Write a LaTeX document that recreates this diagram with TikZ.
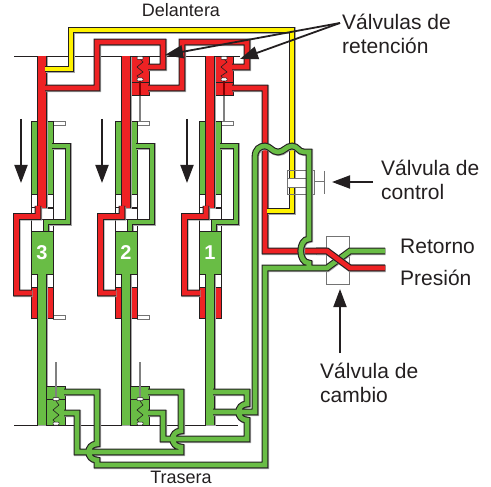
\documentclass[tikz,border=0pt]{standalone}
\usepackage{fontspec}
\setmainfont{Liberation Sans}
\usetikzlibrary{arrows.meta}
\definecolor{pred}{HTML}{EE2224}
\definecolor{pgreen}{HTML}{69BD45}
\definecolor{pyellow}{HTML}{FFF200}
\definecolor{ink}{HTML}{231F20}
\newcommand{\pipes}[2]{%
  \draw[line width=7pt,black!35,shift={(0.6,0.6)}] #2;
  \draw[line width=6.8pt,ink] #2;
  \draw[line width=4.6pt,#1] #2;}
\newcommand{\stems}[2]{%
  \draw[line width=9.8pt,black!35,shift={(0.6,0.6)}] #2;
  \draw[line width=9.6pt,ink] #2;
  \draw[line width=7.8pt,#1] #2;}
\tikzset{
  lbl/.style={inner sep=0pt,text=ink,font=\fontsize{21}{24.5}\selectfont,align=left},
  smalllbl/.style={inner sep=0pt,text=ink,font=\fontsize{18}{21}\selectfont},
  cellbox/.style={draw=ink,line width=0.8pt,fill=white},
  tabbox/.style={draw=black!55,line width=0.9pt,fill=white},
  valvebox/.style={draw=black!55,line width=1pt},
  grn/.style={draw=ink,line width=0.9pt,fill=pgreen},
  redb/.style={draw=ink,line width=0.9pt,fill=pred},
  thinline/.style={draw=ink,line width=0.8pt},
  rodline/.style={draw=black!50,line width=1.3pt},
  bigarrow/.style={draw=ink,line width=1.8pt,-{Triangle[length=18pt,width=13pt]}},
  callout/.style={draw=ink,line width=1.8pt,-{Triangle[length=18pt,width=13pt]}},
  poppet/.style={draw=ink,line width=0.5pt,fill=white,rounded corners=0.8pt,minimum width=6pt,minimum height=3pt,inner sep=0pt},
  spring/.style={draw=ink,line width=0.6pt},
  num/.style={text=white,font=\fontsize{20}{22}\selectfont\bfseries,inner sep=0pt}
}
\begin{document}
\begin{tikzpicture}[x=1pt,y=-1pt]
\useasboundingbox (0,0) rectangle (491,487);
% reference lines
\draw[thinline] (14,56) -- (240,56);
\draw[thinline] (14,425) -- (238,425);
% cylinders
\foreach \c/\t/\n in {0/1/3,84/1/2,168/0/1}{
\begin{scope}[shift={(\c,0)}]
  \draw[tabbox] (53,121) rectangle (65,125);
  \ifnum\t=1 \draw[tabbox] (53,315) rectangle (65,319);\fi
  \draw[grn] (31,121) rectangle (53,194);
  \draw[cellbox] (31,194) rectangle (38,207);
  \draw[cellbox] (46,194) rectangle (53,207);
  \draw[cellbox] (31,207) rectangle (35,214);
  \draw[cellbox] (41,208) rectangle (53,219);
  \draw[cellbox] (31,219) rectangle (43,231);
  \draw[cellbox] (48,224) rectangle (53,231);
  \draw[cellbox] (31,274) rectangle (38,287);
  \draw[cellbox] (46,274) rectangle (53,287);
  \draw[redb] (31,287) rectangle (53,318);
  \pipes{pgreen}{(52,146) -- (68,146) -- (68,222) -- (46,222) -- (46,232)}
  \draw[grn] (31,231) rectangle (53,274);
  \node[num] (n\n) at (42,252.5) {\n};
\end{scope}}
% top check valves
\foreach \c in {0,84}{
\begin{scope}[shift={(\c,0)}]
  \draw[rodline] (140,95) -- (140,121);
  \draw[redb] (130,56) rectangle (149,95);
  \draw[thinline] (130,82) -- (149,82);
  \draw[draw=red!50!black,line width=1.3pt] (140,81) -- (140,95);
  \draw[spring] (140,59) -- (143,62) -- (137,67) -- (143,72) -- (137,76) -- (140,79);
  \node[poppet] (pt\c) at (140,58) {};
  \node[poppet] (pb\c) at (140,79.5) {};
\end{scope}}
% red stems and pipes
\stems{pred}{(42,56) -- (42,208) (126,56) -- (126,208) (210,56) -- (210,208)}
\pipes{pred}{
  (45,88) -- (97,88) -- (97,42) -- (163,42) -- (163,67) -- (148,67)
  (148,88) -- (182,88) -- (182,42) -- (247,42) -- (247,67) -- (232,67)
  (232,88) -- (265,88) -- (265,251) -- (327,251) -- (350,268) -- (385,268)
  (38,206) -- (38,216.5) -- (16.5,216.5) -- (16.5,293) -- (32,293)
  (122,206) -- (122,216.5) -- (100.5,216.5) -- (100.5,293) -- (116,293)
  (206,206) -- (206,216.5) -- (184.5,216.5) -- (184.5,293) -- (200,293)
}
% yellow
\pipes{pyellow}{(45,69) -- (71,69) -- (71,30) -- (292,30) -- (292,211) -- (267,211)}
% rods
\stems{pgreen}{(42,274) -- (42,425) (126,274) -- (126,425) (210,274) -- (210,425)}
% bottom valves
\foreach \c in {0,84}{
\begin{scope}[shift={(\c,0)}]
  \draw[grn] (46,386) rectangle (65,425);
  \draw[rodline] (56,362) -- (56,398);
  \draw[thinline] (46,399) -- (65,399);
  \draw[spring] (56,401) -- (59,405) -- (53,410) -- (59,415) -- (53,420) -- (56,423);
\end{scope}}
% control valve
\draw[valvebox,fill=white] (287,179) rectangle (307,188);
\draw[valvebox] (287,171) rectangle (314,195);
\draw[valvebox] (314,182) -- (324,182);
\draw[valvebox] (324,171) -- (324,194);
% changeover valve body
\draw[valvebox,fill=white] (326,237) rectangle (349,284);
% green pipes
\pipes{pgreen}{
  (64,392) -- (97,392) -- (97,444) .. controls (86,444) and (86,460) .. (97,460) -- (97,465) -- (265,465) -- (265,268) -- (327,268) -- (350,251) -- (385,251)
  (148,392) -- (181,392) -- (181,431) .. controls (170,431) and (170,447) .. (181,447) -- (181,452) -- (77,452) -- (77,413) -- (64,413)
  (213,392) -- (247,392) -- (247,404) .. controls (236,404) and (236,420) .. (247,420) -- (247,439) -- (163,439) -- (163,413) -- (148,413)
  (213,412) -- (255,412) -- (255,157) .. controls (255,149) and (260,146) .. (265,146) .. controls (270,146) and (272,152) .. (278,152) .. controls (284,152) and (286,146) .. (292,146) .. controls (298,146) and (298,152) .. (304,152) -- (309,152) -- (309,239) .. controls (298,239) and (298,263) .. (309,263) -- (309,268)
}
% red on top at the crossing
\pipes{pred}{(316,251) -- (327,251) -- (350,268) -- (385,268)}
\foreach \c in {0,84}{
\begin{scope}[shift={(\c,0)}]
  \node[poppet] (qt\c) at (56,399) {};
  \node[poppet] (qb\c) at (56,423.5) {};
\end{scope}}
\coordinate (cvtip) at (332,182);
\coordinate (cvend) at (373,182);
\draw[bigarrow] (cvend) -- (cvtip);
\coordinate (cotip) at (340,289);
\coordinate (coend) at (340,353);
\draw[bigarrow] (coend) -- (cotip);
% big arrows
\foreach \x/\i in {21/a,102/b,187/c}{
  \coordinate (s\i) at (\x,119);
  \coordinate (e\i) at (\x,183);
  \draw[bigarrow] (s\i) -- (e\i);
}
% labels
\node[smalllbl] (del) at (181,10) {Delantera};
\node[smalllbl] (tra) at (181,477) {Trasera};
\node[lbl,anchor=west] (vr) at (342,34) {Válvulas de\\retención};
\node[lbl,anchor=west] (vc) at (381,180) {Válvula de\\control};
\node[lbl,anchor=west] (ret) at (400,246) {Retorno};
\node[lbl,anchor=west] (pre) at (400,278) {Presión};
\node[lbl,anchor=west] (vca) at (320,383) {Válvula de\\cambio};
\coordinate (co) at (340,23);
\coordinate (t1) at (165,55);
\coordinate (t2) at (240,59);
\draw[callout] (co) -- (t1);
\draw[callout] (co) -- (t2);
\end{tikzpicture}
\end{document}
